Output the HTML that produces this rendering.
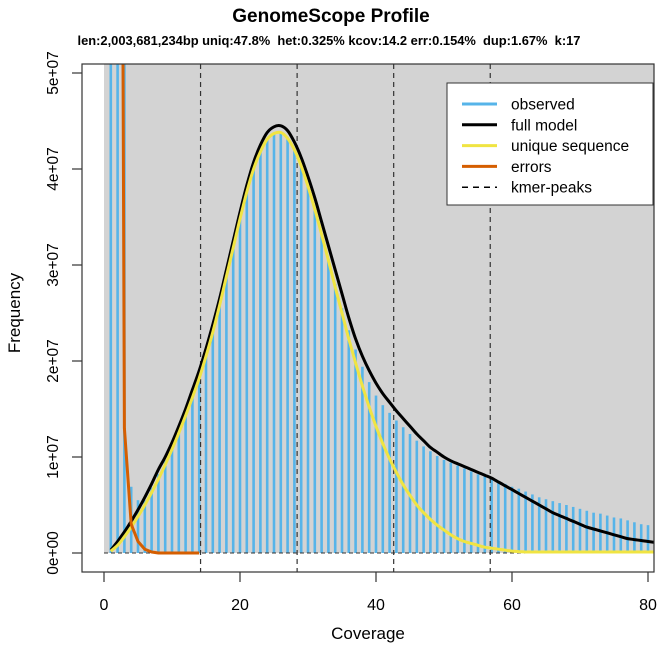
<!DOCTYPE html>
<html><head><meta charset="utf-8"><style>
html,body{margin:0;padding:0;background:#fff;}
svg{display:block;font-family:"Liberation Sans",Arial,sans-serif;}
</style></head><body>
<svg id="chart" width="663" height="646" viewBox="0 0 663 646" xmlns="http://www.w3.org/2000/svg">
<text x="331" y="22" text-anchor="middle" font-size="19" font-weight="bold">GenomeScope Profile</text>
<text x="329" y="45" text-anchor="middle" font-size="12.9" font-weight="bold" xml:space="preserve">len:2,003,681,234bp uniq:47.8%  het:0.325% kcov:14.2 err:0.154%  dup:1.67%  k:17</text>
<defs><clipPath id="clip"><rect x="82" y="64" width="572" height="508"/></clipPath></defs>
<rect x="104" y="64" width="550" height="489" fill="#d3d3d3"/>
<g id="bars" clip-path="url(#clip)"></g>
<g id="peaks"></g>
<line x1="104" y1="553" x2="654" y2="553" stroke="#333" stroke-width="1" stroke-dasharray="4,3"/>
<g id="lines" clip-path="url(#clip)"></g>
<rect x="82" y="64" width="572" height="508" fill="none" stroke="#333" stroke-width="1.2"/>
<g id="axes"></g>
<text x="368" y="639" text-anchor="middle" font-size="17">Coverage</text>
<text transform="translate(20,313) rotate(-90)" text-anchor="middle" font-size="17">Frequency</text>
<g id="legend">
<rect x="447" y="83" width="206" height="122" fill="#fff" stroke="#333" stroke-width="1"/>
</g>
</svg>
<script>
const coverage = Array.from({length:81},(_,i)=>i+1);
const observed = [9,7,6,0.69,0.55,0.55,0.68,0.82,0.97,1.13,1.3,1.47,1.66,1.86,2.08,2.33,2.6,2.9,3.2,3.5,3.78,4.02,4.2,4.32,4.38,4.38,4.33,4.2,4.03,3.82,3.58,3.32,3.06,2.8,2.55,2.32,2.12,1.94,1.78,1.64,1.54,1.46,1.38,1.31,1.24,1.17,1.11,1.06,1.01,0.97,0.94,0.91,0.88,0.85,0.82,0.8,0.78,0.75,0.72,0.69,0.67,0.64,0.61,0.58,0.56,0.54,0.52,0.5,0.48,0.46,0.44,0.42,0.41,0.39,0.37,0.36,0.34,0.32,0.3,0.29,0.27];
const fullModel = [0.03,0.12,0.22,0.33,0.45,0.58,0.72,0.87,1.0,1.15,1.32,1.5,1.7,1.9,2.13,2.38,2.65,2.95,3.25,3.55,3.83,4.07,4.25,4.38,4.44,4.45,4.4,4.28,4.12,3.92,3.7,3.45,3.2,2.95,2.7,2.45,2.23,2.05,1.9,1.77,1.66,1.57,1.48,1.4,1.32,1.24,1.17,1.1,1.05,1.0,0.96,0.93,0.9,0.87,0.84,0.81,0.78,0.74,0.7,0.66,0.62,0.58,0.54,0.5,0.46,0.42,0.39,0.36,0.33,0.3,0.27,0.25,0.23,0.21,0.19,0.17,0.15,0.14,0.13,0.12,0.11];
const uniqueSeq = [0.02,0.08,0.17,0.27,0.38,0.5,0.63,0.77,0.92,1.08,1.25,1.43,1.62,1.82,2.05,2.3,2.58,2.88,3.18,3.48,3.76,4.0,4.18,4.31,4.37,4.38,4.32,4.2,4.03,3.82,3.58,3.32,3.05,2.77,2.5,2.23,1.98,1.74,1.52,1.32,1.14,0.98,0.84,0.71,0.6,0.5,0.42,0.35,0.29,0.24,0.19,0.15,0.12,0.1,0.08,0.06,0.05,0.04,0.03,0.02,0.015,0.01,0.01,0.01,0.01,0.01,0.01,0.01,0.01,0.01,0.01,0.01,0.01,0.01,0.01,0.01,0.01,0.01,0.01,0.01,0.01];
const errCoverage = [1,2,3,4,5,6,7,8,9,10,11,12,13,14];
const errors = [60,20,1.3,0.3,0.12,0.04,0.01,0,0,0,0,0,0,0];
const kmerPeaks = [14.2,28.4,42.6,56.8];
const xTicks = [0,20,40,60,80];
const yTicks = [0,1,2,3,4,5];
const yTickLabels = ["0e+00","1e+07","2e+07","3e+07","4e+07","5e+07"];

const NS="http://www.w3.org/2000/svg";
const X = v => 104 + v*6.8;
const Y = v => 553 - v*96;
function mk(tag, attrs, parent){const e=document.createElementNS(NS,tag);for(const k in attrs)e.setAttribute(k,attrs[k]);parent.appendChild(e);return e;}
const gb=document.getElementById('bars');
coverage.forEach((c,i)=>{
  const v=Math.min(observed[i],6);
  const r=mk('rect',{x:X(c)-1.3,y:Y(v),width:2.6,height:Y(0)-Y(v),fill:'#56B4E9'},gb);
  
  
});
const gp=document.getElementById('peaks');
kmerPeaks.forEach(p=>{
  const l=mk('line',{x1:X(p),x2:X(p),y1:64,y2:572,stroke:'#333','stroke-width':1.2,'stroke-dasharray':'5,4'},gp);
  
  
});
const gl=document.getElementById('lines');
function smooth(xs,ys){
  const P=xs.map((x,i)=>[X(x),Y(Math.min(ys[i],8))]);
  let d='M'+P[0][0].toFixed(1)+','+P[0][1].toFixed(1);
  for(let i=0;i<P.length-1;i++){
    const p0=P[Math.max(i-1,0)],p1=P[i],p2=P[i+1],p3=P[Math.min(i+2,P.length-1)];
    const c1=[p1[0]+(p2[0]-p0[0])/6,p1[1]+(p2[1]-p0[1])/6];
    const c2=[p2[0]-(p3[0]-p1[0])/6,p2[1]-(p3[1]-p1[1])/6];
    d+=` C${c1[0].toFixed(1)},${c1[1].toFixed(1)} ${c2[0].toFixed(1)},${c2[1].toFixed(1)} ${p2[0].toFixed(1)},${p2[1].toFixed(1)}`;
  }
  return d;
}
function curve(xs,ys,color,name,sm){
  const p=mk('path',{d:sm?smooth(xs,ys):'M'+xs.map((x,i)=>X(x).toFixed(1)+','+Y(ys[i]).toFixed(1)).join(' L'),fill:'none',stroke:color,'stroke-width':3,'stroke-linejoin':'round'},gl);
  
  
}
curve(coverage,fullModel,'#000','full-model-line',true);
curve(coverage,uniqueSeq,'#F0E442','unique-sequence-line',true);
curve(errCoverage,errors,'#D55E00','errors-line',false);
const ga=document.getElementById('axes');
xTicks.forEach(t=>{
  const l=mk('line',{x1:X(t),x2:X(t),y1:572,y2:582,stroke:'#333','stroke-width':1.2},ga);
  
  
  const tx=mk('text',{x:X(t),y:610,'text-anchor':'middle','font-size':16},ga);
  tx.textContent=t;
  
  
});
yTicks.forEach((t,i)=>{
  const l=mk('line',{x1:72,x2:82,y1:Y(t),y2:Y(t),stroke:'#333','stroke-width':1.2},ga);
  
  
  const tx=mk('text',{transform:`translate(58,${Y(t)}) rotate(-90)`,'text-anchor':'middle','font-size':15.5},ga);
  tx.textContent=yTickLabels[i];
  
  
});
const legendItems=[["observed","#56B4E9",""],["full model","#000",""],["unique sequence","#F0E442",""],["errors","#D55E00",""],["kmer-peaks","#000","6,5"]];
const gL=document.getElementById('legend');
legendItems.forEach((it,i)=>{
  const y=104+i*20.8;
  const l=mk('line',{x1:462,x2:497,y1:y,y2:y,stroke:it[1],'stroke-width':it[2]?1.5:3},gL);
  if(it[2])l.setAttribute('stroke-dasharray',it[2]);
  
  
  const tx=mk('text',{x:511,y:y+5.5,'font-size':15.5},gL);
  tx.textContent=it[0];
  
  
});
</script>
</body></html>
